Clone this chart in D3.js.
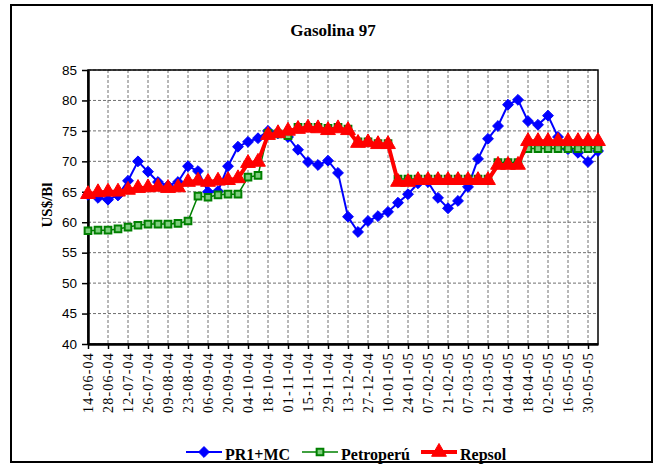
<!DOCTYPE html>
<html>
<head>
<meta charset="utf-8">
<script src="https://cdn.jsdelivr.net/npm/d3@7"></script>
<style>
  body { margin: 0; background: #fff; }
</style>
</head>
<body>
<div id="chart"></div>
<script>
// weekly categories
var weeks = ["14-06-04","21-06-04","28-06-04","05-07-04","12-07-04","19-07-04","26-07-04","02-08-04",
  "09-08-04","16-08-04","23-08-04","30-08-04","06-09-04","13-09-04","20-09-04","27-09-04",
  "04-10-04","11-10-04","18-10-04","25-10-04","01-11-04","08-11-04","15-11-04","22-11-04",
  "29-11-04","06-12-04","13-12-04","20-12-04","27-12-04","03-01-05","10-01-05","17-01-05",
  "24-01-05","31-01-05","07-02-05","14-02-05","21-02-05","28-02-05","07-03-05","14-03-05",
  "21-03-05","28-03-05","04-04-05","11-04-05","18-04-05","25-04-05","02-05-05","09-05-05",
  "16-05-05","23-05-05","30-05-05","06-06-05"];

var pr1mc = [64.5,64.0,63.7,64.4,66.8,70.0,68.3,66.6,66.0,66.6,69.2,68.4,65.0,65.1,69.2,72.4,
  73.2,73.8,75.0,74.6,74.0,71.9,69.9,69.4,70.1,68.1,60.9,58.4,60.2,61.0,61.7,63.2,
  64.6,66.4,66.6,64.0,62.3,63.5,65.8,70.4,73.7,75.8,79.3,80.1,76.6,76.0,77.5,74.0,
  72.0,71.4,69.9,71.7];

var petroperu = [58.6,58.7,58.7,58.9,59.2,59.5,59.7,59.7,59.7,59.8,60.2,64.3,64.1,64.5,64.6,64.6,
  67.4,67.7,74.6,74.5,74.2,75.6,75.6,75.6,75.4,75.6,75.3,73.2,73.2,72.9,72.9,67.1,
  67.1,67.1,67.1,67.1,67.1,67.1,67.1,67.1,67.1,69.8,69.8,69.8,72.1,72.1,72.1,72.1,
  72.1,72.1,72.1,72.1];

var repsol = [64.6,64.9,65.0,65.0,65.3,65.6,65.7,65.8,65.6,65.7,66.6,66.8,66.6,66.8,66.9,67.2,
  69.7,69.9,74.3,74.6,75.0,75.3,75.5,75.4,75.1,75.4,75.1,73.0,73.1,72.8,72.8,66.6,
  66.6,66.9,66.9,66.9,66.9,66.9,66.9,66.9,66.9,69.4,69.4,69.4,73.3,73.3,73.3,73.3,
  73.3,73.3,73.3,73.3];

var yTicks = [40,45,50,55,60,65,70,75,80,85];

var serif = "'Liberation Serif', 'Times New Roman', Times, serif";
var sans = "'Liberation Sans', Arial, sans-serif";

var svgWidth = 661, svgHeight = 464;
var margin = {top: 70, left: 88, right: 63, bottom: 120};
var width = svgWidth - margin.left - margin.right;   // 510
var height = svgHeight - margin.top - margin.bottom; // 274

var svg = d3.select("#chart").append("svg")
  .attr("width", svgWidth)
  .attr("height", svgHeight);

// outer frame
svg.append("rect")
  .attr("x", 11).attr("y", 5)
  .attr("width", 641).attr("height", 457)
  .attr("fill", "none").attr("stroke", "#000").attr("stroke-width", 2);

svg.append("text")
  .attr("x", 333).attr("y", 36)
  .attr("text-anchor", "middle")
  .style("font-family", serif)
  .style("font-weight", "bold")
  .style("font-size", "17px")
  .text("Gasolina 97");

var g = svg.append("g")
  .attr("transform", `translate(${margin.left}, ${margin.top})`);

var x = d3.scalePoint().domain(weeks).range([0, width]);
var y = d3.scaleLinear().domain([40, 85]).range([height, 0]);

var labelled = weeks.filter((d, i) => i % 2 === 0);

// grid
g.append("g").selectAll("line")
  .data(yTicks)
  .enter().append("line")
  .attr("x1", 0).attr("x2", width)
  .attr("y1", d => y(d)).attr("y2", d => y(d))
  .attr("stroke", "#707070").attr("stroke-dasharray", "3,2");

g.append("g").selectAll("line")
  .data(labelled)
  .enter().append("line")
  .attr("x1", d => x(d)).attr("x2", d => x(d))
  .attr("y1", 0).attr("y2", height)
  .attr("stroke", "#707070").attr("stroke-dasharray", "3,2");

// plot border (top + right)
g.append("rect")
  .attr("width", width).attr("height", height)
  .attr("fill", "none").attr("stroke", "#000").attr("stroke-width", 1.5);

// axes
var leftAxis = d3.axisLeft(y).tickValues(yTicks).tickSize(6).tickSizeOuter(0);
var yAxisG = g.append("g").call(leftAxis);
yAxisG.select(".domain").attr("stroke-width", 2.5);
yAxisG.selectAll(".tick line").attr("stroke-width", 1.5);
yAxisG.selectAll("text")
  .attr("x", -11)
  .style("font-family", sans)
  .style("font-size", "13.5px")
  .attr("fill", "#000");

var bottomAxis = d3.axisBottom(x).tickValues(labelled).tickSize(5).tickSizeOuter(0);
var xAxisG = g.append("g")
  .attr("transform", `translate(0, ${height})`)
  .call(bottomAxis);
xAxisG.select(".domain").attr("stroke-width", 2.5);
xAxisG.selectAll(".tick line").attr("stroke-width", 1.5);
xAxisG.selectAll("text")
  .attr("transform", "rotate(-90)")
  .attr("x", -8).attr("y", 0).attr("dy", "0.35em")
  .attr("text-anchor", "end")
  .style("font-family", serif)
  .style("font-size", "14px")
  .style("letter-spacing", "1.2px")
  .attr("fill", "#000");

svg.append("text")
  .attr("transform", "translate(52, 205) rotate(-90)")
  .attr("text-anchor", "middle")
  .style("font-family", serif)
  .style("font-weight", "bold")
  .style("font-size", "15px")
  .text("US$/Bl");

var line = d3.line()
  .x((d, i) => x(weeks[i]))
  .y(d => y(d));

var diamond = d3.symbol().type(d3.symbolDiamond2).size(75);
var square = d3.symbol().type(d3.symbolSquare).size(45);
var triangle = d3.symbol().type(d3.symbolTriangle).size(95);

var series = [
  {name: "PR1+MC", values: pr1mc, color: "#0000ff", width: 2, sym: diamond, fill: "#0000ff", stroke: "#0000ff", sw: 1},
  {name: "Petroperú", values: petroperu, color: "#008000", width: 1.5, sym: square, fill: "#7ccd7c", stroke: "#008000", sw: 2},
  {name: "Repsol", values: repsol, color: "#ff0000", width: 4, sym: triangle, fill: "#ff0000", stroke: "#ff0000", sw: 1}
];

series.forEach(function(s) {
  g.append("path")
    .datum(s.values)
    .attr("d", line)
    .attr("fill", "none")
    .attr("stroke", s.color)
    .attr("stroke-width", s.width);

  g.append("g").selectAll("path")
    .data(s.values)
    .enter().append("path")
    .attr("transform", (d, i) => `translate(${x(weeks[i])}, ${y(d)})`)
    .attr("d", s.sym)
    .attr("fill", s.fill)
    .attr("stroke", s.stroke)
    .attr("stroke-width", s.sw);
});

// legend
var legendPos = [186, 302, 421];
var legend = svg.append("g");
series.forEach(function(s, i) {
  var lx = legendPos[i];
  legend.append("line")
    .attr("x1", lx).attr("x2", lx + 36)
    .attr("y1", 452).attr("y2", 452)
    .attr("stroke", s.color).attr("stroke-width", s.width);
  legend.append("path")
    .attr("transform", `translate(${lx + 18}, 452)`)
    .attr("d", s.sym)
    .attr("fill", s.fill)
    .attr("stroke", s.stroke)
    .attr("stroke-width", s.sw);
  legend.append("text")
    .attr("x", lx + 39).attr("y", 460)
    .style("font-family", serif)
    .style("font-weight", "bold")
    .style("font-size", "16px")
    .text(s.name);
});
</script>
</body>
</html>
